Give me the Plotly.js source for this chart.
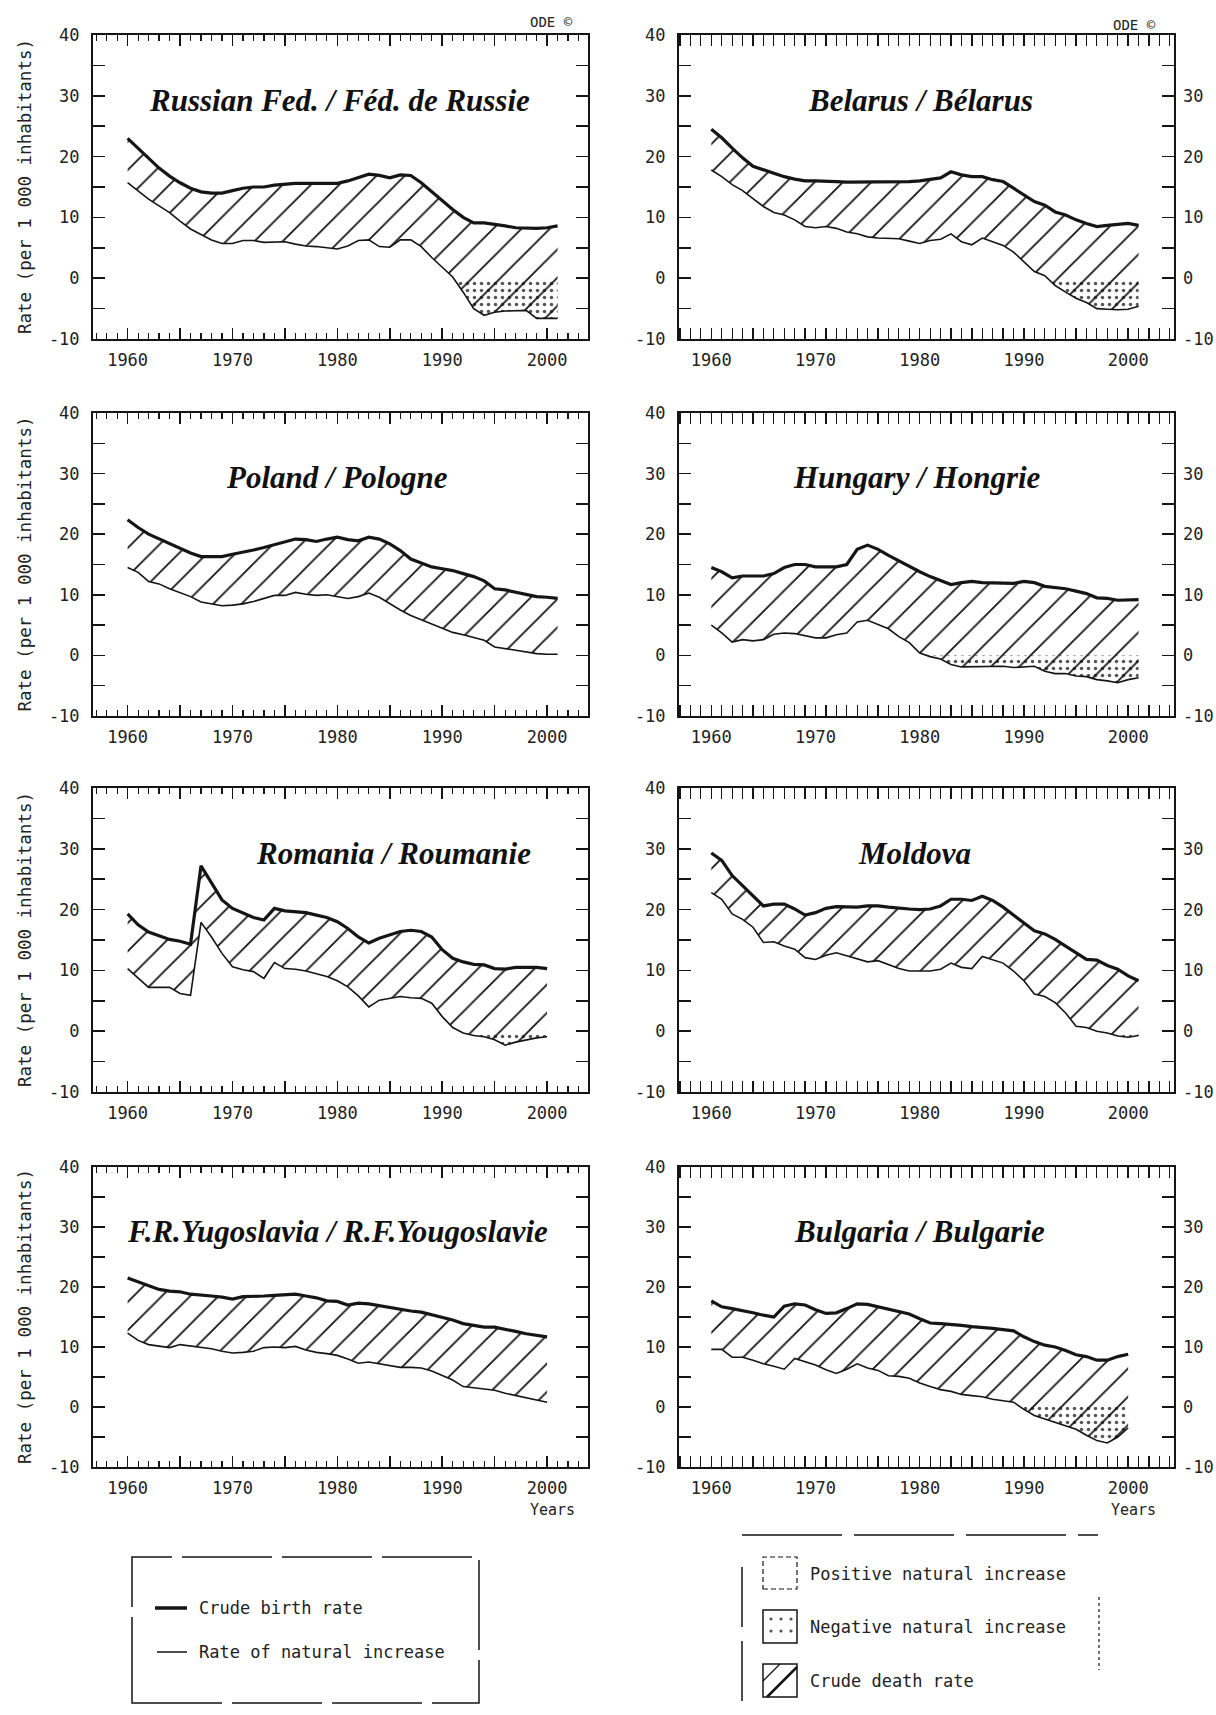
<!DOCTYPE html>
<html><head><meta charset="utf-8">
<script src="https://cdn.plot.ly/plotly-3.0.1.min.js"></script>
<style>body{margin:0;background:#fff}#chart{width:1216px;height:1715px}</style>
</head><body><div id="chart"></div>
<script>
// ---------- DATA ----------
const yearsTo2001 = [1960,1961,1962,1963,1964,1965,1966,1967,1968,1969,1970,1971,1972,1973,1974,1975,1976,1977,1978,1979,1980,1981,1982,1983,1984,1985,1986,1987,1988,1989,1990,1991,1992,1993,1994,1995,1996,1997,1998,1999,2000,2001];
const yearsTo2000 = [1960,1961,1962,1963,1964,1965,1966,1967,1968,1969,1970,1971,1972,1973,1974,1975,1976,1977,1978,1979,1980,1981,1982,1983,1984,1985,1986,1987,1988,1989,1990,1991,1992,1993,1994,1995,1996,1997,1998,1999,2000];

const russiaBirth   = [23.0,21.4,19.8,18.1,16.8,15.7,14.8,14.2,14.0,14.0,14.4,14.8,15.0,15.0,15.3,15.5,15.6,15.6,15.6,15.6,15.6,16.0,16.5,17.1,16.9,16.5,17.0,16.9,15.7,14.2,12.7,11.3,10.0,9.1,9.1,8.9,8.6,8.3,8.2,8.2,8.3,8.6];
const russiaNatural = [15.7,14.3,13.0,11.9,10.8,9.4,8.1,7.2,6.3,5.7,5.7,6.2,6.2,5.9,6.0,6.0,5.6,5.3,5.2,5.0,4.8,5.3,6.2,6.3,5.2,5.1,6.3,6.3,5.2,3.4,1.8,0.2,-2.3,-5.0,-6.1,-5.6,-5.4,-5.4,-5.3,-6.6,-6.6,-6.6];

const belarusBirth   = [24.5,23.1,21.4,19.8,18.4,17.8,17.3,16.7,16.3,16.0,16.0,16.0,15.9,15.8,15.8,15.8,15.8,15.8,15.8,15.9,16.0,16.2,16.5,17.5,17.0,16.7,16.7,16.2,15.9,14.8,13.7,12.6,12.0,10.9,10.4,9.6,9.0,8.5,8.7,8.8,9.0,8.7];
const belarusNatural = [17.8,16.7,15.4,14.4,13.1,11.8,10.8,10.4,9.6,8.5,8.3,8.5,8.2,7.6,7.3,6.8,6.6,6.5,6.5,6.1,5.7,6.2,6.4,7.3,6.0,5.5,6.6,6.0,5.4,4.3,2.7,1.1,0.4,-1.2,-2.3,-3.3,-4.0,-5.0,-5.1,-5.2,-5.1,-4.6];

const polandBirth   = [22.4,21.1,20.0,19.2,18.4,17.6,16.9,16.3,16.3,16.3,16.7,17.0,17.4,17.8,18.3,18.7,19.2,19.1,18.8,19.2,19.5,19.1,18.9,19.5,19.2,18.4,17.3,15.9,15.2,14.6,14.3,14.0,13.5,13.0,12.3,11.0,10.8,10.4,10.1,9.7,9.6,9.4];
const polandNatural = [14.5,13.7,12.2,11.8,11.0,10.4,9.7,8.8,8.5,8.2,8.3,8.5,8.9,9.4,9.9,9.9,10.4,10.1,9.9,10.0,9.7,9.4,9.7,10.3,9.6,8.5,7.5,6.6,5.9,5.1,4.4,3.8,3.4,3.0,2.5,1.4,1.1,0.8,0.5,0.3,0.2,0.2];

const hungaryBirth   = [14.5,13.8,12.8,13.1,13.1,13.1,13.5,14.5,15.0,15.0,14.6,14.6,14.6,15.0,17.5,18.2,17.5,16.5,15.6,14.6,13.8,13.0,12.3,11.7,12.0,12.2,12.0,12.0,12.0,11.9,12.2,12.0,11.4,11.2,11.0,10.6,10.2,9.5,9.4,9.1,9.2,9.2];
const hungaryNatural = [5.0,3.7,2.2,2.6,2.4,2.6,3.5,3.7,3.6,3.2,2.9,2.9,3.4,3.7,5.5,5.8,5.1,4.4,3.1,2.1,0.4,-0.2,-0.6,-1.5,-1.9,-1.9,-1.9,-1.8,-1.8,-2.0,-1.9,-1.8,-2.6,-3.0,-3.0,-3.4,-3.5,-4.0,-4.2,-4.5,-4.0,-3.7];

const romaniaBirth   = [19.3,17.5,16.3,15.7,15.1,14.8,14.3,27.2,24.3,21.6,20.2,19.4,18.7,18.3,20.2,19.8,19.7,19.5,19.1,18.7,18.0,16.9,15.5,14.5,15.3,15.8,16.4,16.6,16.4,15.5,13.4,12.0,11.4,11.0,10.9,10.3,10.2,10.5,10.5,10.5,10.3];
const romaniaNatural = [10.3,8.7,7.2,7.2,7.2,6.2,5.9,17.9,15.5,12.8,10.6,10.1,9.8,8.7,11.3,10.3,10.2,9.9,9.5,9.0,8.3,7.3,5.8,4.0,5.1,5.4,5.7,5.5,5.4,4.6,2.4,0.6,-0.3,-0.7,-0.9,-1.4,-2.3,-1.8,-1.4,-1.1,-0.9];

const moldovaBirth   = [29.3,28.1,25.6,23.9,22.3,20.6,20.9,20.9,20.1,19.1,19.5,20.2,20.5,20.4,20.4,20.6,20.6,20.4,20.2,20.1,20.0,20.1,20.6,21.7,21.7,21.5,22.2,21.5,20.4,19.1,17.9,16.5,16.0,15.1,14.0,12.9,11.8,11.7,10.8,10.2,9.1,8.3];
const moldovaNatural = [22.8,21.7,19.3,18.4,17.1,14.6,14.7,14.0,13.5,12.1,11.8,12.5,12.9,12.4,11.8,11.4,11.6,11.0,10.3,9.9,9.9,9.9,10.2,11.2,10.5,10.3,12.3,11.8,11.2,9.9,8.3,6.1,5.7,4.7,3.0,0.8,0.6,0.0,-0.3,-0.8,-1.0,-0.7];

const yugoslaviaBirth   = [21.5,20.9,20.2,19.6,19.3,19.2,18.8,18.7,18.5,18.3,18.0,18.4,18.4,18.5,18.6,18.7,18.8,18.5,18.2,17.7,17.6,17.0,17.3,17.2,16.9,16.6,16.2,16.0,15.8,15.4,14.9,14.5,13.9,13.6,13.3,13.3,13.0,12.6,12.2,11.9,11.7];
const yugoslaviaNatural = [12.3,11.1,10.4,10.2,9.9,10.4,10.2,9.9,9.7,9.3,9.0,9.1,9.3,9.9,10.0,9.9,10.1,9.5,9.1,8.9,8.6,8.0,7.3,7.5,7.2,6.8,6.6,6.6,6.5,6.0,5.3,4.5,3.4,3.2,3.0,2.8,2.3,1.9,1.5,1.1,0.8];

const bulgariaBirth   = [17.7,16.7,16.4,16.1,15.7,15.3,15.0,16.8,17.2,17.0,16.2,15.6,15.7,16.4,17.2,17.1,16.7,16.2,15.9,15.5,14.7,14.0,13.9,13.8,13.6,13.4,13.3,13.1,12.9,12.7,11.7,10.9,10.3,10.0,9.4,8.7,8.4,7.8,7.8,8.4,8.8];
const bulgariaNatural = [9.6,9.6,8.3,8.3,7.8,7.2,6.8,6.3,8.1,7.6,7.0,6.2,5.6,6.3,7.2,6.5,6.1,5.2,5.1,4.8,4.0,3.4,2.9,2.6,2.1,1.9,1.7,1.3,1.0,0.8,-0.4,-1.4,-2.0,-2.6,-3.1,-3.7,-4.7,-5.6,-6.0,-5.0,-3.5];

const countryNames = ['Russian Fed. / Féd. de Russie','Belarus / Bélarus','Poland / Pologne','Hungary / Hongrie','Romania / Roumanie','Moldova','F.R.Yugoslavia / R.F.Yougoslavie','Bulgaria / Bulgarie'];
const xTickVals = [1960,1965,1970,1975,1980,1985,1990,1995,2000];
const xTickText = ['1960','','1970','','1980','','1990','','2000'];
const yTickVals = [-10,-5,0,5,10,15,20,25,30,35,40];
const yTickText = ['-10','','0','','10','','20','','30','','40'];
const yRightVals = [-10,0,10,20,30];
const yRightText = ['-10','0','10','20','30'];
const legendLineLabels = ['Crude birth rate','Rate of natural increase'];
const legendFillLabels = ['Positive natural increase','Negative natural increase','Crude death rate'];
const axisTitleText = 'Rate (per 1 000 inhabitants)';

// ---------- LAYOUT HELPERS ----------
const W = 1216, H = 1715;
const px = v => v / W;
const py = v => 1 - v / H;
const MONO = 'DejaVu Sans Mono';
const INK = '#151515';

const panels = [
  {years: yearsTo2001, birth: russiaBirth,     natural: russiaNatural,     titleX: 1980.2},
  {years: yearsTo2001, birth: belarusBirth,    natural: belarusNatural,    titleX: 1980.1},
  {years: yearsTo2001, birth: polandBirth,     natural: polandNatural,     titleX: 1980.0},
  {years: yearsTo2001, birth: hungaryBirth,    natural: hungaryNatural,    titleX: 1979.7},
  {years: yearsTo2000, birth: romaniaBirth,    natural: romaniaNatural,    titleX: 1985.4},
  {years: yearsTo2001, birth: moldovaBirth,    natural: moldovaNatural,    titleX: 1979.5},
  {years: yearsTo2000, birth: yugoslaviaBirth, natural: yugoslaviaNatural, titleX: 1980.0},
  {years: yearsTo2000, birth: bulgariaBirth,   natural: bulgariaNatural,   titleX: 1980.0}
];

const colBox = [[93, 588], [679, 1174]];
const colRange = [[1956.7, 2003.9], [1956.9, 2004.4]];
const rowBox = [[35, 339], [413, 716], [788, 1092], [1167, 1467]];

// negative part of natural increase (exact zero crossings inserted)
function negativePart(years, ni) {
  const xs = [], ys = [];
  for (let i = 0; i < years.length; i++) {
    if (i > 0) {
      const a = ni[i - 1], b = ni[i];
      if ((a < 0 && b > 0) || (a > 0 && b < 0)) {
        const t = a / (a - b);
        xs.push(years[i - 1] + t * (years[i] - years[i - 1]));
        ys.push(0);
      }
    }
    xs.push(years[i]);
    ys.push(Math.min(ni[i], 0));
  }
  return {xs, ys};
}

const traces = [];
const layout = {
  width: W, height: H,
  margin: {l: 0, r: 0, t: 0, b: 0},
  paper_bgcolor: '#fff', plot_bgcolor: '#fff',
  showlegend: false,
  annotations: [], shapes: []
};

panels.forEach((p, k) => {
  const s = k === 0 ? '' : String(k + 1);
  const col = k % 2, row = Math.floor(k / 2);
  const xa = 'x' + s, ya = 'y' + s;
  const neg = negativePart(p.years, p.natural);

  traces.push({x: neg.xs, y: neg.xs.map(() => 0), mode: 'lines', line: {width: 0, color: 'rgba(0,0,0,0)'},
    xaxis: xa, yaxis: ya, hoverinfo: 'skip'});
  traces.push({x: neg.xs, y: neg.ys, mode: 'lines', line: {width: 0, color: 'rgba(0,0,0,0)'},
    fill: 'tonexty', fillcolor: 'rgba(0,0,0,0)',
    fillpattern: {shape: '.', size: 7, solidity: 0.2, fgcolor: '#555', bgcolor: 'rgba(0,0,0,0)'},
    xaxis: xa, yaxis: ya, hoverinfo: 'skip'});
  traces.push({x: p.years, y: p.birth, mode: 'lines', name: legendLineLabels[0],
    line: {width: 3.2, color: INK}, xaxis: xa, yaxis: ya});
  traces.push({x: p.years, y: p.natural, mode: 'lines', name: legendLineLabels[1],
    line: {width: 1.6, color: INK}, fill: 'tonexty', fillcolor: 'rgba(0,0,0,0)',
    fillpattern: {shape: '/', size: 20, solidity: 0.09, fgcolor: INK, bgcolor: 'rgba(0,0,0,0)'},
    xaxis: xa, yaxis: ya});

  layout['xaxis' + s] = {
    domain: [px(colBox[col][0]), px(colBox[col][1])], anchor: ya,
    range: colRange[col], tickmode: 'array', tickvals: xTickVals, ticktext: xTickText,
    ticks: 'inside', ticklen: 11, tickwidth: 1.5, tickcolor: INK,
    minor: {tickmode: 'linear', tick0: 1957, dtick: 1, ticks: 'inside', ticklen: 6, tickwidth: 1.2, tickcolor: INK},
    showline: true, linewidth: 2, linecolor: INK, mirror: 'allticks',
    showgrid: false, zeroline: false, ticklabelstandoff: 5,
    tickfont: {family: MONO, size: 17, color: '#222'}, fixedrange: true
  };
  layout['yaxis' + s] = {
    domain: [py(rowBox[row][1]), py(rowBox[row][0])], anchor: xa,
    range: [-10, 40], tickmode: 'array', tickvals: yTickVals, ticktext: yTickText,
    ticks: 'inside', ticklen: 12, tickwidth: 1.5, tickcolor: INK,
    showline: true, linewidth: 2, linecolor: INK, mirror: 'allticks',
    showgrid: false, zeroline: false, ticklabelstandoff: 8,
    tickfont: {family: MONO, size: 17, color: '#222'}, fixedrange: true
  };
  if (col === 1) {
    const oid = 9 + row;
    layout['yaxis' + oid] = {
      overlaying: ya, anchor: xa, side: 'right', range: [-10, 40],
      tickmode: 'array', tickvals: yRightVals, ticktext: yRightText,
      ticks: '', showline: false, showgrid: false, zeroline: false, ticklabelstandoff: 8,
      tickfont: {family: MONO, size: 17, color: '#222'}, fixedrange: true
    };
    traces.push({x: p.years, y: p.birth, mode: 'lines', line: {width: 0, color: 'rgba(0,0,0,0)'},
      xaxis: xa, yaxis: 'y' + oid, hoverinfo: 'skip'});
  }
  layout.annotations.push({
    xref: xa, yref: ya, x: p.titleX, y: 29.3, xanchor: 'center', yanchor: 'middle',
    text: countryNames[k], showarrow: false,
    font: {family: 'Liberation Serif', size: 31, weight: 'bold', style: 'italic', color: '#111'}
  });
  if (col === 0) {
    layout.annotations.push({
      xref: 'paper', yref: 'paper', x: px(25), y: py((rowBox[row][0] + rowBox[row][1]) / 2),
      xanchor: 'center', yanchor: 'middle', textangle: -90, showarrow: false,
      text: axisTitleText, font: {family: MONO, size: 17.5, color: '#222'}
    });
  }
});

// "Years" under the bottom row and marks at top
['x7', 'x8'].forEach(xa => {
  layout.annotations.push({xref: xa, yref: 'paper', x: 2000, y: py(1510), xshift: 5,
    xanchor: 'center', yanchor: 'middle', text: 'Years', showarrow: false,
    font: {family: MONO, size: 15, color: '#222'}});
});
layout.annotations.push({xref: 'paper', yref: 'paper', x: px(551), y: py(22), text: 'ODE ©', showarrow: false,
  xanchor: 'center', yanchor: 'middle', font: {family: MONO, size: 14, color: '#222'}});
layout.annotations.push({xref: 'paper', yref: 'paper', x: px(1134), y: py(25), text: 'ODE ©', showarrow: false,
  xanchor: 'center', yanchor: 'middle', font: {family: MONO, size: 14, color: '#222'}});

// ---------- LEGENDS (drawn) ----------
const lineShape = (x0, y0, x1, y1, w, dash) => ({type: 'line', xref: 'paper', yref: 'paper',
  x0: px(x0), y0: py(y0), x1: px(x1), y1: py(y1), line: {color: INK, width: w, dash: dash || 'solid'}});
const rectShape = (x0, y0, x1, y1, w, dash) => ({type: 'rect', xref: 'paper', yref: 'paper',
  x0: px(x0), y0: py(y1), x1: px(x1), y1: py(y0), line: {color: INK, width: w, dash: dash || 'solid'}});
const legText = (x, y, t) => ({xref: 'paper', yref: 'paper', x: px(x), y: py(y), xanchor: 'left', yanchor: 'middle',
  text: t, showarrow: false, font: {family: MONO, size: 17, color: '#222'}});

// left legend box
layout.shapes.push(rectShape(132, 1557, 479, 1703, 1.5, '90px,10px'));
layout.shapes.push(lineShape(155, 1608, 187, 1608, 3.5));
layout.shapes.push(lineShape(157, 1652, 187, 1652, 1.5));
layout.annotations.push(legText(197, 1608, legendLineLabels[0]));
layout.annotations.push(legText(197, 1652, legendLineLabels[1]));

// right legend frame
layout.shapes.push(lineShape(742, 1535, 1098, 1535, 1.5, '100px,12px'));
layout.shapes.push(lineShape(742, 1567, 742, 1715, 1.5, '60px,14px'));
layout.shapes.push(lineShape(1099, 1597, 1099, 1670, 1.2, 'dot'));
// swatches
layout.shapes.push(rectShape(763, 1557, 797, 1589, 1.2, '5px,3px'));
layout.shapes.push(rectShape(763, 1610, 797, 1643, 1.5));
[[771, 1619], [781, 1619], [791, 1619], [771, 1631], [781, 1631], [791, 1631]].forEach(([cx, cy]) => {
  layout.shapes.push({type: 'circle', xref: 'paper', yref: 'paper',
    x0: px(cx - 1.6), x1: px(cx + 1.6), y0: py(cy + 1.6), y1: py(cy - 1.6),
    fillcolor: '#555', line: {width: 0}});
});
layout.shapes.push(rectShape(763, 1664, 797, 1697, 1.5));
layout.shapes.push(lineShape(767, 1697, 797, 1667, 2.5));
layout.shapes.push(lineShape(763, 1681, 780, 1664, 1.2));
layout.annotations.push(legText(808, 1574, legendFillLabels[0]));
layout.annotations.push(legText(808, 1627, legendFillLabels[1]));
layout.annotations.push(legText(808, 1681, legendFillLabels[2]));

Plotly.newPlot('chart', traces, layout, {staticPlot: true});
</script>
</body></html>
